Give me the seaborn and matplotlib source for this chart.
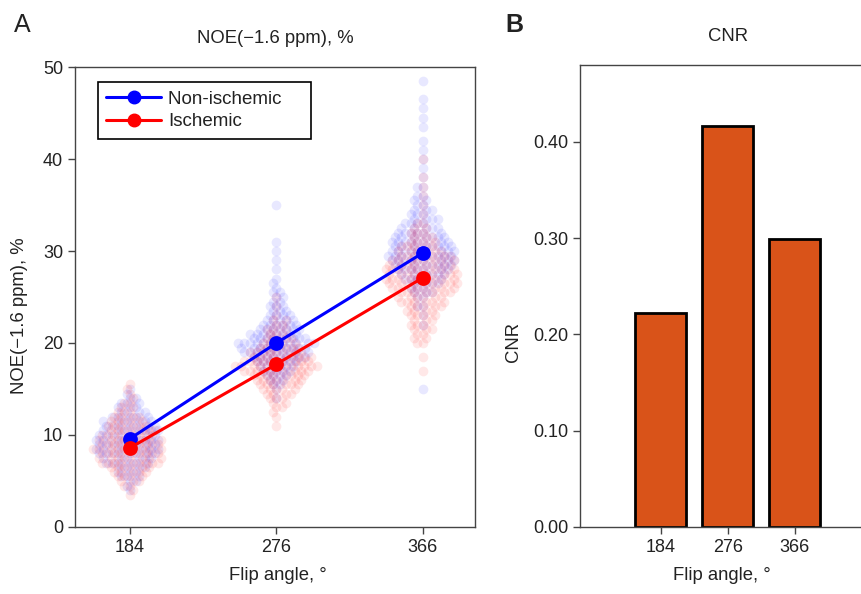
import numpy as np
import pandas as pd
import matplotlib
matplotlib.use('Agg')
import matplotlib.pyplot as plt
from matplotlib.lines import Line2D
import seaborn as sns

# data
angles = ['184', '276', '366']
noni_mean = [9.6, 20.0, 29.8]
isch_mean = [8.6, 17.7, 27.1]
cnr = [0.222, 0.417, 0.299]

# per-angle value levels and counts (estimated from the swarms)
noni_184_lv = [4.0, 4.5, 5.0, 5.5, 6.0, 6.5, 7.0, 7.5, 8.0, 8.5, 9.0, 9.5, 10.0, 10.5, 11.0, 11.5, 12.0, 12.5, 13.0, 13.5, 14.0, 14.5, 15.0]
noni_184_n = [1, 1, 2, 3, 3, 4, 6, 6, 8, 8, 8, 8, 8, 7, 7, 6, 5, 4, 3, 3, 2, 1, 1]
isch_184_lv = [3.5, 4.0, 4.5, 5.0, 5.5, 6.0, 6.5, 7.0, 7.5, 8.0, 8.5, 9.0, 9.5, 10.0, 10.5, 11.0, 11.5, 12.0, 12.5, 13.0, 13.5, 14.0, 14.5, 15.0, 15.5]
isch_184_n = [1, 1, 2, 3, 4, 5, 6, 9, 8, 9, 9, 9, 8, 8, 7, 6, 5, 4, 3, 2, 2, 1, 1, 1, 1]

noni_276_lv = [14.0, 15.0, 15.5, 16.0, 16.5, 17.0, 17.5, 18.0, 18.5, 19.0, 19.5, 20.0, 20.5, 21.0, 21.5, 22.0, 22.5, 23.0, 23.5, 24.0, 24.5, 25.0, 25.5, 26.0, 26.5, 27.0, 28.0, 29.0, 30.0, 31.0, 35.0]
noni_276_n = [1, 1, 2, 3, 4, 5, 6, 7, 9, 10, 10, 12, 9, 8, 7, 6, 5, 4, 3, 3, 2, 2, 2, 1, 1, 1, 1, 1, 1, 1, 1]
isch_276_lv = [11.0, 12.0, 12.5, 13.0, 13.5, 14.0, 14.5, 15.0, 15.5, 16.0, 16.5, 17.0, 17.5, 18.0, 18.5, 19.0, 19.5, 20.0, 20.5, 21.0, 21.5, 22.0, 22.5, 23.0, 24.0, 25.0]
isch_276_n = [1, 1, 1, 2, 2, 3, 4, 5, 6, 7, 8, 10, 12, 10, 9, 8, 6, 5, 4, 3, 3, 2, 2, 1, 1, 1]

noni_366_lv = [15.0, 22.0, 23.0, 24.0, 25.0, 25.5, 26.0, 26.5, 27.0, 27.5, 28.0, 28.5, 29.0, 29.5, 30.0, 30.5, 31.0, 31.5, 32.0, 32.5, 33.0, 33.5, 34.0, 34.5, 35.0, 35.5, 36.0, 37.0, 38.0, 39.0, 40.0, 41.0, 42.0, 43.5, 44.5, 45.5, 46.5, 48.5]
noni_366_n = [1, 1, 1, 2, 2, 3, 3, 4, 5, 6, 7, 8, 9, 9, 9, 8, 8, 7, 6, 5, 4, 4, 3, 3, 2, 2, 2, 2, 1, 1, 1, 1, 1, 1, 1, 1, 1, 1]
isch_366_lv = [17.0, 18.5, 20.0, 20.5, 21.0, 21.5, 22.0, 22.5, 23.0, 23.5, 24.0, 24.5, 25.0, 25.5, 26.0, 26.5, 27.0, 27.5, 28.0, 28.5, 29.0, 29.5, 30.0, 30.5, 31.0, 31.5, 32.0, 32.5, 33.0, 34.0, 35.0, 36.0, 37.0, 38.0, 40.0]
isch_366_n = [1, 1, 2, 2, 2, 3, 3, 3, 4, 4, 5, 6, 6, 7, 8, 9, 9, 9, 9, 8, 8, 7, 6, 5, 4, 3, 3, 2, 2, 1, 1, 1, 1, 1, 1]


def build(parts):
    rows = []
    for ang, lv, n in parts:
        for v in np.repeat(lv, n):
            rows.append([ang, v])
    return pd.DataFrame(rows, columns=['angle', 'value'])


df_noni = build([('184', noni_184_lv, noni_184_n), ('276', noni_276_lv, noni_276_n), ('366', noni_366_lv, noni_366_n)])
df_isch = build([('184', isch_184_lv, isch_184_n), ('276', isch_276_lv, isch_276_n), ('366', isch_366_lv, isch_366_n)])

sns.set_style('ticks')
plt.rcParams['font.family'] = ['Liberation Sans', 'DejaVu Sans']
plt.rcParams['axes.edgecolor'] = '#444444'
plt.rcParams['xtick.color'] = '#444444'
plt.rcParams['ytick.color'] = '#444444'
plt.rcParams['xtick.labelcolor'] = '#222222'
plt.rcParams['ytick.labelcolor'] = '#222222'
plt.rcParams['text.color'] = '#222222'
plt.rcParams['axes.labelcolor'] = '#222222'

fig = plt.figure(figsize=(8.62, 5.94), dpi=100)
ax1 = fig.add_axes([0.087, 0.1128, 0.464, 0.7744])
ax2 = fig.add_axes([0.673, 0.1128, 0.348, 0.7778])

#panel A: swarms + means
sns.swarmplot(data=df_noni, x='angle', y='value', order=angles, color=(0, 0, 1),
              size=4.0, alpha=0.09, linewidth=0, ax=ax1, warn_thresh=1)
sns.swarmplot(data=df_isch, x='angle', y='value', order=angles, color=(1, 0, 0),
              size=4.0, alpha=0.09, linewidth=0, ax=ax1, warn_thresh=1)
swarms = list(ax1.collections)
ax1.set_xlim(-0.375, 2.355)
ax1.set_ylim(0, 50)
fig.canvas.draw()
# keep the swarm layout, then let the dots overlap like the original
for c in swarms:
    if 'draw' in c.__dict__:
        del c.draw
    c.set_sizes([7.0 ** 2])

sns.pointplot(x=angles, y=noni_mean, color=(0, 0, 1), markers='o', markersize=9,
              linewidth=2.2, ax=ax1, errorbar=None)
sns.pointplot(x=angles, y=isch_mean, color=(1, 0, 0), markers='o', markersize=9,
              linewidth=2.2, ax=ax1, errorbar=None)
for ln in ax1.lines:
    ln.set_zorder(10)
ax1.set_xlim(-0.375, 2.355)
ax1.set_ylim(0, 50)
ax1.set_yticks([0, 10, 20, 30, 40, 50])
for s in ['top', 'right', 'left', 'bottom']:
    ax1.spines[s].set_visible(True)
    ax1.spines[s].set_linewidth(1.0)
ax1.tick_params(direction='out', length=5, width=1, labelsize=13, top=False, right=False)
ax1.set_title('NOE(\u22121.6 ppm), %', fontsize=13.3, pad=17)
ax1.set_xlabel('Flip angle, \u00b0', fontsize=13.3)
ax1.set_ylabel('NOE(\u22121.6 ppm), %', fontsize=13.3)
ax1.xaxis.set_label_coords(0.5075, -0.087)
ax1.yaxis.set_label_coords(-0.117, 0.46)

handles = [Line2D([], [], color=(0, 0, 1), marker='o', markersize=9, lw=2.2),
           Line2D([], [], color=(1, 0, 0), marker='o', markersize=9, lw=2.2)]
leg = ax1.legend(handles, ['Non-ischemic    ', 'Ischemic'], loc='upper left',
                 bbox_to_anchor=(0.0575, 0.967), borderaxespad=0, fontsize=13.5,
                 frameon=True, fancybox=False, edgecolor='black', handlelength=2.9,
                 labelspacing=0.3, borderpad=0.45, handletextpad=0.4)
leg.get_frame().set_linewidth(1.2)
leg.get_frame().set_alpha(1)
leg.set_zorder(20)

#panel B: CNR bars
sns.barplot(x=angles, y=cnr, color='#D95319', saturation=1, edgecolor='black',
            linewidth=2.0, width=0.76, ax=ax2)
ax2.set_xlim(-1.2, 3.27)
ax2.set_ylim(0, 0.48)
ax2.set_yticks([0, 0.1, 0.2, 0.3, 0.4])
ax2.set_yticklabels(['%.2f' % t for t in [0, 0.1, 0.2, 0.3, 0.4]])
for s in ['top', 'right', 'left', 'bottom']:
    ax2.spines[s].set_visible(True)
    ax2.spines[s].set_linewidth(1.0)
ax2.tick_params(direction='out', length=5, width=1, labelsize=13, top=False, right=False)
ax2.set_title('CNR', fontsize=13.3, pad=17, x=0.493)
ax2.set_xlabel('Flip angle, \u00b0', fontsize=13.3)
ax2.set_ylabel('CNR', fontsize=13.3)
ax2.xaxis.set_label_coords(0.473, -0.087)
ax2.yaxis.set_label_coords(-0.193, 0.4)

fig.text(0.0255, 0.958, 'A', fontsize=18, ha='center', va='center')
fig.text(0.597, 0.958, 'B', fontsize=18, fontweight='bold', ha='center', va='center')

fig.savefig('out.png', dpi=100)
